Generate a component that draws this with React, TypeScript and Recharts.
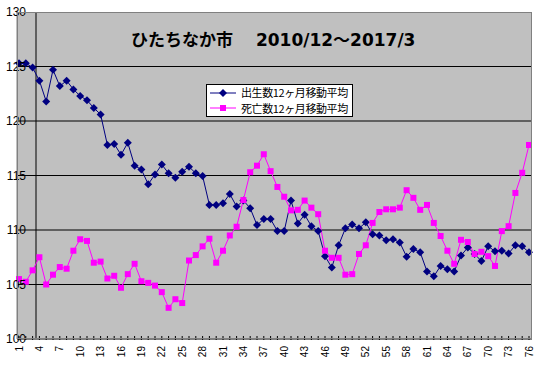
import { CartesianGrid, Legend, Line, LineChart, ReferenceLine, XAxis, YAxis } from "recharts"

// 12ヶ月移動平均 (2010/12〜2017/3)
const births = [
    125.3, 125.3, 124.9, 123.7, 121.8, 124.7, 123.2, 123.7, 122.9, 122.3, 121.9, 121.2, 120.6,
    117.8, 117.9, 116.9, 118.0, 115.9, 115.55, 114.2, 115.1, 116.0, 115.2, 114.8, 115.35, 115.8,
    115.2, 114.95, 112.3, 112.3, 112.45, 113.3, 112.15, 112.7, 112.0, 110.45, 111.0, 111.0, 109.9,
    109.9, 112.7, 110.6, 111.4, 110.35, 109.9, 107.6, 106.55, 108.6, 110.15, 110.5, 110.15,
    110.7, 109.6, 109.5, 109.05, 109.15, 108.85, 107.55, 108.25, 107.95, 106.2, 105.75, 106.7, 106.4,
    106.2, 107.65, 108.4, 107.8, 107.15, 108.5, 108.05, 108.1, 107.85, 108.6, 108.5, 107.95,
]

const deaths = [
    105.5, 105.25, 106.3, 107.5, 105.0, 105.9, 106.6, 106.45, 108.1, 109.15, 109.0, 107.0, 107.1,
    105.55, 105.8, 104.7, 105.95, 106.9, 105.3, 105.15, 104.9, 104.3, 102.86, 103.65, 103.3, 107.2,
    107.7, 108.5, 109.2, 107.0, 108.1, 109.5, 110.3, 112.75, 115.3, 115.9, 116.95, 115.4, 113.95,
    113.05, 111.8, 111.85, 112.7, 112.05, 111.45, 108.1, 107.45, 107.45, 105.9, 105.95, 107.8,
    108.6, 110.65, 111.65, 111.9, 111.9, 112.05, 113.65, 112.95, 111.85, 112.3, 110.65, 109.45, 108.1,
    106.9, 109.1, 108.9, 107.8, 108.0, 107.6, 106.7, 109.9, 110.35, 113.4, 115.25, 117.8,
]

const xLabels = [1, 4, 7, 10, 13, 16, 19, 22, 25, 28, 31, 34, 37, 40, 43, 46, 49, 52, 55, 58, 61, 64, 67, 70, 73, 76]
const yTicks = [100, 105, 110, 115, 120, 125, 130]
const gridValues = [105, 110, 115, 120, 125]

const title = "ひたちなか市\u3000 2010/12～2017/3"
const birthsName = "出生数12ヶ月移動平均"
const deathsName = "死亡数12ヶ月移動平均"

const NAVY = "#000080"
const PINK = "#FF00FF"

const data = births.map((b, i) => ({ idx: i + 1, births: b, deaths: deaths[i] }))
const allTicks = data.map(d => d.idx)

const Diamond = (props: any) => {
    const { cx, cy } = props
    if (cx == null || cy == null) return null
    return <path key={props.key} d={`M${cx},${cy - 4}L${cx + 4},${cy}L${cx},${cy + 4}L${cx - 4},${cy}Z`} fill={NAVY} />
}

const Square = (props: any) => {
    const { cx, cy } = props
    if (cx == null || cy == null) return null
    return <rect key={props.key} x={cx - 3} y={cy - 3} width={6} height={6} fill={PINK} />
}

const XTick = (props: any) => {
    const { x, payload } = props
    const v = payload.value
    const showLabel = xLabels.includes(v)
    return (
        <g>
            <line x1={x} x2={x} y1={336} y2={340} stroke="#000" />
            {showLabel && (
                <text
                    x={x}
                    y={346}
                    transform={`rotate(-90 ${x} 346)`}
                    textAnchor="end"
                    dy="0.35em"
                    fontSize={10}
                    fontFamily="Liberation Sans, Arial, sans-serif"
                    fill="#000"
                >
                    {v}
                </text>
            )}
        </g>
    )
}

const YTick = (props: any) => {
    const { y, payload } = props
    return (
        <text x={26} y={y} dy="0.36em" textAnchor="end" fontSize={12} fontFamily="Liberation Sans, Arial, sans-serif" fill="#000">
            {payload.value}
        </text>
    )
}

const LegendBox = () => {
    const items = [
        { name: birthsName, color: NAVY, marker: "diamond" },
        { name: deathsName, color: PINK, marker: "square" },
    ]
    return (
        <div style={{
            background: "#fff",
            border: "1px solid #000",
            padding: "0 3px 0 3px",
            width: 147,
            height: 33,
            boxSizing: "border-box",
            fontFamily: "'Noto Sans CJK JP', sans-serif",
            fontSize: 11,
            letterSpacing: -0.4,
            color: "#000",
        }}>
            {items.map(it => (
                <div key={it.name} style={{ display: "flex", alignItems: "center", height: 15.5, whiteSpace: "nowrap" }}>
                    <svg width={26} height={10} style={{ display: "block" }}>
                        <line x1={0} x2={26} y1={5} y2={5} stroke={it.color} />
                        {it.marker === "diamond"
                            ? <path d="M13,1L17,5L13,9L9,5Z" fill={it.color} />
                            : <rect x={10} y={2} width={6} height={6} fill={it.color} />}
                    </svg>
                    <span style={{ marginLeft: 5, lineHeight: "15px" }}>{it.name}</span>
                </div>
            ))}
        </div>
    )
}

const App = () => {
    return (
        <div style={{ position: "absolute", left: 0, top: 0, width: 541, height: 365, background: "#fff" }}>
            <LineChart width={541} height={365} data={data} margin={{ top: 12, right: 9, bottom: 0, left: 0 }}>
                <CartesianGrid fill="#C0C0C0" stroke="#000" vertical={false} horizontalValues={gridValues} />
                <XAxis
                    type="number"
                    dataKey="idx"
                    domain={[1, 76]}
                    ticks={allTicks}
                    interval={0}
                    padding={{ left: 2, right: 3 }}
                    height={26}
                    axisLine={{ stroke: "#000" }}
                    tickLine={false}
                    tick={<XTick />}
                />
                <YAxis
                    type="number"
                    domain={[100, 130]}
                    ticks={yTicks}
                    width={17}
                    axisLine={{ stroke: "#808080" }}
                    tickLine={false}
                    tick={<YTick />}
                />
                <ReferenceLine x={3.5} stroke="#000" />
                <Legend layout="vertical" align="center" verticalAlign="middle" content={<LegendBox />} wrapperStyle={{ left: 206, top: 84, width: 147 }} />
                <Line dataKey="births" name={birthsName} stroke={NAVY} strokeWidth={1} dot={<Diamond />} activeDot={false} isAnimationActive={false} />
                <Line dataKey="deaths" name={deathsName} stroke={PINK} strokeWidth={1} dot={<Square />} activeDot={false} isAnimationActive={false} />
            </LineChart>
            <div style={{ position: "absolute", left: 17, top: 12, width: 515, height: 327, border: "1px solid #808080", boxSizing: "border-box", pointerEvents: "none" }} />
            <div style={{
                position: "absolute",
                left: 131,
                top: 28,
                fontFamily: "'DejaVu Sans', 'Noto Sans CJK JP', sans-serif",
                fontWeight: "bold",
                fontSize: 17,
                whiteSpace: "pre",
                color: "#000",
                lineHeight: "24px",
            }}>
                {title}
            </div>
        </div>
    )
}

export default App
